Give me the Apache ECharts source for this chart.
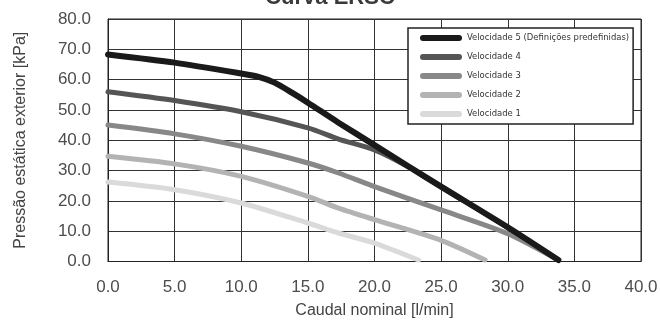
<!DOCTYPE html>
<html>
<head>
<meta charset="utf-8">
<script src="https://cdn.jsdelivr.net/npm/echarts@6/dist/echarts.min.js"></script>
<style>html,body{margin:0;padding:0;background:#fff}#c{width:660px;height:320px}</style>
</head>
<body>
<div id="c"></div>
<script>
const titleText = 'Curva ERSC';
const xName = 'Caudal nominal [l/min]';
const yName = 'Pressão estática exterior [kPa]';
const seriesNames = ['Velocidade 5 (Definições predefinidas)', 'Velocidade 4', 'Velocidade 3', 'Velocidade 2', 'Velocidade 1'];

const flow5 = [0, 5, 10, 11.3, 12.5, 13.8, 15, 17.3, 20, 22.5, 25, 30, 33.8];
const press5 = [68.3, 65.6, 62.0, 60.9, 59.0, 55.7, 52.4, 45.8, 38.4, 31.5, 24.7, 11.3, 0.5];
const flow4 = [0, 5, 10, 15, 17.3, 20, 22.5, 25, 30, 33.8];
const press4 = [56.0, 53.1, 49.4, 44.1, 40.4, 36.8, 31.3, 24.6, 11.2, 0.5];
const flow3 = [0, 5, 10, 15, 17.3, 20, 25, 30, 33.8];
const press3 = [45.0, 42.1, 38.0, 32.5, 29.2, 24.7, 17.0, 9.2, 0.5];
const flow2 = [0, 5, 10, 15, 17.3, 20, 25, 28.3];
const press2 = [34.7, 32.2, 28.1, 21.5, 17.6, 13.8, 7.0, 0.5];
const flow1 = [0, 5, 10, 15, 17.3, 20, 23.3];
const press1 = [26.2, 23.7, 19.3, 12.7, 9.4, 6.1, 0.5];

const flows = [flow5, flow4, flow3, flow2, flow1];
const presses = [press5, press4, press3, press2, press1];
const colors = ['#1a1a1a', '#555555', '#888888', '#b3b3b3', '#dadada'];
const widths = [6, 5, 5, 5, 5];

const pill = 'path://M3,0 L39,0 A3,3 0 0 1 39,6 L3,6 A3,3 0 0 1 3,0 Z';

const series = [];
for (let i = seriesNames.length - 1; i >= 0; i--) {
  series.push({
    name: seriesNames[i],
    type: 'line',
    smooth: 0.25,
    symbol: 'none',
    color: colors[i],
    lineStyle: { color: colors[i], width: widths[i], cap: 'round', join: 'round' },
    data: flows[i].map((x, k) => [x, presses[i][k]]),
    z: 10 - i
  });
}

const chart = echarts.init(document.getElementById('c'), null, { renderer: 'canvas' });
chart.setOption({
  animation: false,
  backgroundColor: '#fff',
  title: {
    text: titleText,
    left: 'center',
    top: -18,
    textStyle: { fontFamily: 'Liberation Sans', fontWeight: 'bold', fontSize: 22, color: '#3a3a3a' }
  },
  grid: { left: 108, right: 19, top: 19, bottom: 58.5, outerBoundsMode: 'none', containLabel: false, show: true, borderColor: '#222', borderWidth: 1, backgroundColor: 'transparent' },
  legend: {
    data: seriesNames.map(n => ({ name: n, icon: pill })),
    orient: 'vertical',
    left: 408,
    top: 28,
    itemWidth: 42,
    itemHeight: 7,
    itemGap: 5,
    padding: [3, 4, 3, 12],
    backgroundColor: '#fff',
    borderColor: '#222',
    borderWidth: 1.5,
    borderRadius: 0,
    textStyle: { fontFamily: '"DejaVu Sans Condensed", "Liberation Sans", sans-serif', fontSize: 9.4, color: '#333', lineHeight: 14 }
  },
  xAxis: {
    type: 'value', min: 0, max: 40, interval: 5,
    name: xName, nameLocation: 'middle', nameGap: 41.5,
    nameTextStyle: { fontFamily: 'Liberation Sans', fontSize: 16, color: '#444' },
    axisLine: { show: true, lineStyle: { color: '#222', width: 1 } },
    axisTick: { show: false },
    axisLabel: { margin: 17, fontFamily: 'Liberation Sans', fontSize: 17, color: '#4d4d4d', formatter: v => v.toFixed(1) },
    splitLine: { show: true, lineStyle: { color: '#333', width: 1 } }
  },
  yAxis: {
    type: 'value', min: 0, max: 80, interval: 10,
    name: yName, nameLocation: 'middle', nameGap: 79,
    nameTextStyle: { fontFamily: 'Liberation Sans', fontSize: 16, color: '#444' },
    axisLine: { show: true, lineStyle: { color: '#222', width: 1 } },
    axisTick: { show: false },
    axisLabel: { margin: 17, fontFamily: 'Liberation Sans', fontSize: 17, color: '#4d4d4d', formatter: v => v.toFixed(1) },
    splitLine: { show: true, lineStyle: { color: '#333', width: 1 } }
  },
  series: series
});
</script>
</body>
</html>
